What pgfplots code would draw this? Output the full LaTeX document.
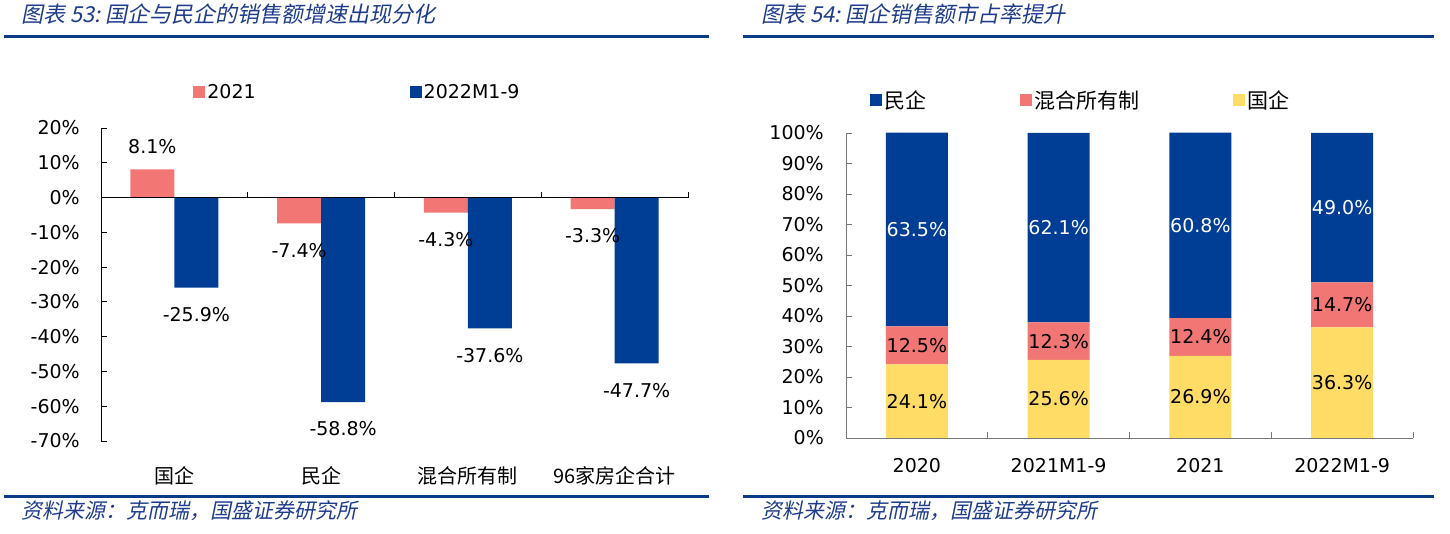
\documentclass[border=0pt]{standalone}
\usepackage{fontspec}
\usepackage{pgfplots}
\usepackage{pgfplotstable}
\pgfplotsset{compat=1.18}
\setmainfont{DejaVu Sans}
\newfontfamily\cjk{Noto Sans CJK SC}
\newfontfamily\cjkit[FakeSlant=0.2]{Noto Sans CJK SC}
\definecolor{cblue}{RGB}{0,62,150}
\definecolor{cpink}{RGB}{241,118,116}
\definecolor{cyellow}{RGB}{255,220,102}
\definecolor{tblue}{RGB}{30,60,140}
\definecolor{lblue}{RGB}{10,60,135}
\definecolor{axgray}{RGB}{120,120,120}

\pgfplotstableread{
x gq hh mq
0 24.1 12.5 63.5
1 25.6 12.3 62.1
2 26.9 12.4 60.8
3 36.3 14.7 49.0
}\sharetable

\begin{document}
\begin{tikzpicture}
\useasboundingbox (0pt,0pt) rectangle (1450pt,534pt);
% header / footer rules
\fill[lblue] (4pt,495.5pt) rectangle (709pt,498.5pt);
\fill[lblue] (743pt,495.5pt) rectangle (1434pt,498.5pt);
\fill[lblue] (4pt,36pt) rectangle (709pt,38.5pt);
\fill[lblue] (743pt,36pt) rectangle (1434pt,38.5pt);
\node[anchor=west, inner sep=0pt, text=tblue, font=\cjkit\fontsize{22}{24}\selectfont] at (21pt,520pt) {图表 53:\ 国企与民企的销售额增速出现分化};
\node[anchor=west, inner sep=0pt, text=tblue, font=\cjkit\fontsize{22}{24}\selectfont] at (761pt,520pt) {图表 54:\ 国企销售额市占率提升};
\node[anchor=west, inner sep=0pt, text=tblue, font=\cjkit\fontsize{21}{24}\selectfont] at (21pt,23pt) {资料来源：克而瑞，国盛证券研究所};
\node[anchor=west, inner sep=0pt, text=tblue, font=\cjkit\fontsize{21}{24}\selectfont] at (761pt,23pt) {资料来源：克而瑞，国盛证券研究所};

% ---------------- left chart
\begin{axis}[
  at={(101pt,93pt)}, anchor=south west,
  scale only axis, width=587pt, height=313pt,
  xmin=-0.5, xmax=3.5, ymin=-70, ymax=20,
  clip=false,
  axis x line*=bottom, x axis line style={draw=none},
  axis y line*=left, y axis line style={black, line width=0.8pt},
  xtick={0,1,2,3},
  xticklabels={国企,民企,混合所有制,96家房企合计},
  xtick style={draw=none},
  xticklabel style={font=\cjk\fontsize{20}{24}\selectfont, anchor=center, yshift=-29pt, inner sep=0pt},
  ytick={-70,-60,-50,-40,-30,-20,-10,0,10,20},
  yticklabels={-70\%,-60\%,-50\%,-40\%,-30\%,-20\%,-10\%,0\%,10\%,20\%},
  yticklabel style={font=\fontsize{19}{22}\selectfont, inner sep=0pt, anchor=east, xshift=-21pt},
  ytick style={black, line width=0.8pt},
  tick align=inside, major tick length=6pt,
  ybar=0pt, bar width=44pt,
  point meta=explicit symbolic,
  nodes near coords,
  visualization depends on={y \as \rawy},
  every node near coord/.append style={font=\fontsize{19}{22}\selectfont, anchor=center, inner sep=0pt,
     yshift={\rawy>0 ? 23 : -27}},
  legend columns=2,
  legend style={draw=none, fill=none, at={(axis description cs:0.157,1.115)}, anchor=west,
    font=\fontsize{19}{22}\selectfont, inner sep=0pt,
    /tikz/every even column/.append style={column sep=152pt}},
  legend image code/.code={\fill[#1] (0pt,-6pt) rectangle (12pt,6pt);},
]
\addplot[fill=cpink, draw=none] coordinates {(0,8.1) [8.1\%] (1,-7.4) [-7.4\%] (2,-4.3) [-4.3\%] (3,-3.3) [-3.3\%]};
\addlegendentry{2021}
\addplot[fill=cblue, draw=none] coordinates {(0,-25.9) [-25.9\%] (1,-58.8) [-58.8\%] (2,-37.6) [-37.6\%] (3,-47.7) [-47.7\%]};
\addlegendentry{2022M1-9}
\draw[black, line width=0.8pt] (axis cs:-0.5,0) -- (axis cs:3.5,0);
\draw[black, line width=0.8pt] (axis cs:0.5,0) -- ([yshift=6pt]axis cs:0.5,0);
\draw[black, line width=0.8pt] (axis cs:1.5,0) -- ([yshift=6pt]axis cs:1.5,0);
\draw[black, line width=0.8pt] (axis cs:2.5,0) -- ([yshift=6pt]axis cs:2.5,0);
\draw[black, line width=0.8pt] (axis cs:3.5,0) -- ([yshift=6pt]axis cs:3.5,0);
\end{axis}

% ---------------- right chart
\begin{axis}[
  at={(846pt,96pt)}, anchor=south west,
  scale only axis, width=567pt, height=305pt,
  xmin=-0.5, xmax=3.5, ymin=0, ymax=100,
  clip=false,
  axis x line*=bottom, x axis line style={axgray, line width=0.8pt},
  axis y line*=left, y axis line style={axgray, line width=0.8pt},
  xtick={0,1,2,3},
  xticklabels={2020,2021M1-9,2021,2022M1-9},
  xtick style={draw=none},
  xticklabel style={font=\fontsize{19}{22}\selectfont, anchor=center, yshift=-28pt, inner sep=0pt},
  ytick={0,10,...,100},
  yticklabels={0\%,10\%,20\%,30\%,40\%,50\%,60\%,70\%,80\%,90\%,100\%},
  yticklabel style={font=\fontsize{19}{22}\selectfont, inner sep=0pt, anchor=east, xshift=-22pt},
  ytick style={axgray, line width=0.8pt},
  tick align=inside, major tick length=6pt,
  ybar stacked, bar width=62pt,
  point meta=explicit,
  /pgf/number format/assume math mode=true,
  nodes near coords={\pgfmathprintnumber[fixed,fixed zerofill,precision=1]{\pgfplotspointmeta}\%},
  every node near coord/.append style={font=\fontsize{19}{22}\selectfont, anchor=center, inner sep=0pt},
  legend columns=3,
  legend style={draw=none, fill=none, at={(axis description cs:0.042,1.108)}, anchor=west,
    font=\cjk\fontsize{21}{24}\selectfont, inner sep=0pt,
    /tikz/every even column/.append style={column sep=92pt}},
  legend image code/.code={\fill[#1] (0pt,-6pt) rectangle (12pt,6pt);},
  reverse legend,
]
\addplot[fill=cyellow, draw=none,
  every node near coord/.append style={text=black}] table[x=x, y=gq, meta=gq] {\sharetable};
\addlegendentry{国企}
\addplot[fill=cpink, draw=none,
  every node near coord/.append style={text=black}] table[x=x, y=hh, meta=hh] {\sharetable};
\addlegendentry{混合所有制}
\addplot[fill=cblue, draw=none,
  every node near coord/.append style={text=white}] table[x=x, y=mq, meta=mq] {\sharetable};
\addlegendentry{民企}
\draw[axgray, line width=0.8pt] (axis cs:0.5,0) -- ([yshift=6pt]axis cs:0.5,0);
\draw[axgray, line width=0.8pt] (axis cs:1.5,0) -- ([yshift=6pt]axis cs:1.5,0);
\draw[axgray, line width=0.8pt] (axis cs:2.5,0) -- ([yshift=6pt]axis cs:2.5,0);
\draw[axgray, line width=0.8pt] (axis cs:3.5,0) -- ([yshift=6pt]axis cs:3.5,0);
\end{axis}
\end{tikzpicture}
\end{document}
